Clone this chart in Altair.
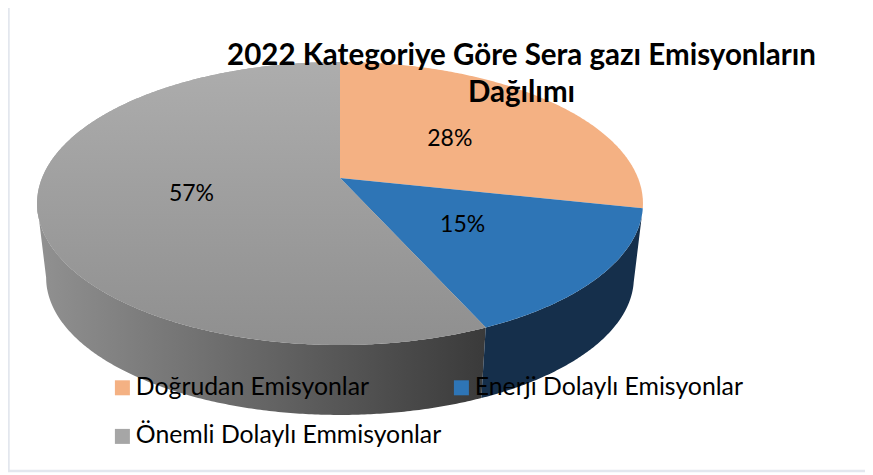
import numpy as np
import pandas as pd
import altair as alt

title_lines = ["2022 Kategoriye Göre Sera gazı Emisyonların", "Dağılımı"]
categories = ["Doğrudan Emisyonlar", "Enerji Dolaylı Emisyonlar", "Önemli Dolaylı Emmisyonlar"]
shares = [28.4, 14.9, 56.7]
labels = ["28%", "15%", "57%"]
top_colors = ["#F4B183", "#2E75B6", "#A6A6A6"]
# legend fills column by column, so this order reads Doğrudan, Enerji on the first row
legend_order = [categories[0], categories[2], categories[1]]
legend_colors = [top_colors[0], top_colors[2], top_colors[1]]
FONT = "Lato"

# perspective view of the pie disc
CX, CY, AX, KY, P = 340.0, 178.0, 298.0, 136.9, 0.18
DROP, SHRINK = 75.0, 0.97
W, H = 857, 467


def project(deg, r=1.0, lower=False):
    a = np.radians(deg)
    X, Y = r * np.sin(a), -r * np.cos(a)
    d = 1 - P * Y
    x, y = AX * X / d, KY * Y / d
    if lower:
        return CX + x * SHRINK, CY + y * SHRINK + DROP
    return CX + x, CY + y


def arc(start, end, lower=False):
    t = np.linspace(start, end, max(3, int(abs(end - start) * 2)))
    return project(t, lower=lower)


edges = np.concatenate([[0], np.cumsum(shares)]) * 3.6

rows = []
for name, a, b in zip(categories, edges[:-1], edges[1:]):
    xs, ys = arc(a, b)
    px = np.concatenate([[CX], xs, [CX]])
    py = np.concatenate([[CY], ys, [CY]])
    rows += [dict(series=name, i=i, x=u, y=v) for i, (u, v) in enumerate(zip(px, py))]
top = pd.DataFrame(rows)


def wall(a, b):
    x1, y1 = arc(a, b)
    x2, y2 = arc(b, a, lower=True)
    px = np.concatenate([x1, x2])
    py = np.concatenate([y1, y2])
    return pd.DataFrame(dict(i=np.arange(len(px)), x=px, y=py))


LEFT_LIMIT = 259.6
wall_blue = wall(edges[1], edges[2])
wall_grey = wall(edges[2], LEFT_LIMIT)

mid = (edges[:-1] + edges[1:]) / 2
lx, ly = project(mid, r=0.5)
label_df = pd.DataFrame(dict(text=labels, x=lx, y=ly + 1.5))

xs = alt.Scale(domain=[8, 8 + W], nice=False, zero=False)
ys = alt.Scale(domain=[8 + H, 8], nice=False, zero=False)
X = alt.X("x:Q", scale=xs, axis=None)
Y = alt.Y("y:Q", scale=ys, axis=None)

side_grey = alt.Gradient(
    gradient="linear", x1=0, x2=1, y1=0, y2=0,
    stops=[alt.GradientStop(offset=0, color="#919191"), alt.GradientStop(offset=1, color="#3A3A3A")],
)
top_grey = alt.Gradient(
    gradient="linear", x1=0, x2=0, y1=0, y2=1,
    stops=[alt.GradientStop(offset=0, color="#ADADAD"), alt.GradientStop(offset=1, color="#8F8F8F")],
)

frame_df = pd.DataFrame(dict(i=[0, 1, 2], x=[8.5, 8.5, 8 + W], y=[8, 471, 471]))
frame = alt.Chart(frame_df).mark_line(color="#E3E7EE", strokeWidth=2.5).encode(x=X, y=Y, order="i:Q")

w_grey = alt.Chart(wall_grey).mark_line(fill=side_grey, strokeWidth=0).encode(x=X, y=Y, order="i:Q")
w_blue = alt.Chart(wall_blue).mark_line(fill="#152F4B", strokeWidth=0).encode(x=X, y=Y, order="i:Q")

faces = alt.Chart(top).mark_line(strokeWidth=0).encode(
    x=X, y=Y, order="i:Q",
    fill=alt.Fill(
        "series:N",
        scale=alt.Scale(domain=legend_order, range=legend_colors),
        legend=alt.Legend(
            title=None, orient="none", legendX=102, legendY=367, columns=2,
            symbolType="square", symbolSize=225, symbolStrokeWidth=0,
            labelFont=FONT, labelFontSize=24.8, labelColor="#000000", labelLimit=400,
            labelOffset=1, columnPadding=7, rowPadding=23, zindex=1,
            gridAlign="each",
        ),
    ),
)
grey_face = alt.Chart(top[top.series == categories[2]]).mark_line(fill=top_grey, strokeWidth=0).encode(
    x=X, y=Y, order="i:Q"
)

text = alt.Chart(label_df).mark_text(font=FONT, fontSize=23, color="#000000", baseline="middle").encode(
    x=X, y=Y, text="text:N"
)

chart = alt.layer(frame, w_grey, w_blue, faces, grey_face, text).properties(
    width=W, height=H,
    autosize=alt.AutoSizeParams(type="none"),
    padding=0,
    background="#FFFFFF",
    title=alt.TitleParams(
        text=title_lines, font=FONT, fontSize=29.5, fontWeight="bold", color="#000000",
        anchor="middle", dx=85, dy=109, lineHeight=37,
    ),
).configure_view(stroke=None)

chart.save("out.html", embed_options={"renderer": "svg", "actions": False})
